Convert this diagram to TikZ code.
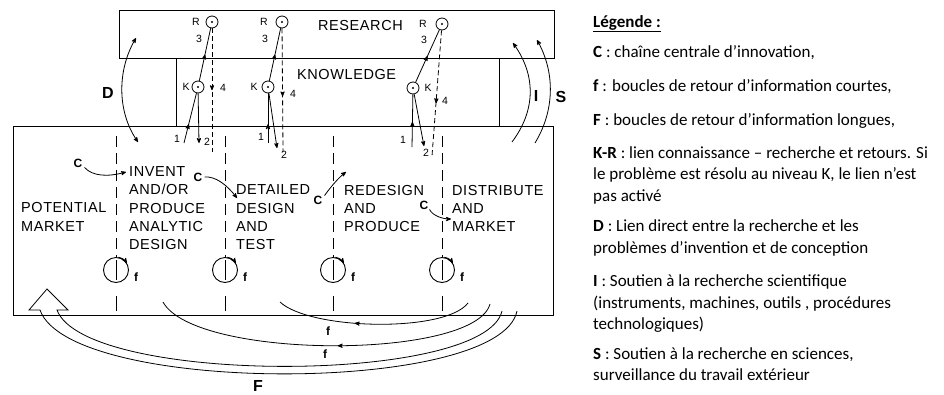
\documentclass[tikz,border=0pt]{standalone}
\usepackage{fontspec}
\setmainfont{Liberation Sans}
\newfontfamily\diagfont[LetterSpace=4]{Liberation Sans}
\newfontfamily\legfont{Carlito}
\usetikzlibrary{arrows, decorations.markings}
\tikzset{
>=stealth', % narrow filled heads, as in the scan
box/.style={draw, line width=1.1pt, inner sep=0pt, anchor=north west},
stage/.style={anchor=base west, align=left, inner sep=0pt, font=\diagfont\fontsize{14.5}{18.2}\selectfont},
lbl/.style={inner sep=0pt, font=\fontsize{10.5}{12}\selectfont},
flbl/.style={inner sep=0pt, font=\bfseries\fontsize{12}{14}\selectfont},
ctag/.style={inner sep=0pt, font=\bfseries\fontsize{12}{14}\selectfont},
bigtag/.style={inner sep=0pt, font=\bfseries\fontsize{16}{18}\selectfont},
kr/.style={circle, draw, line width=0.8pt, minimum size=12pt, inner sep=0pt,
  path picture={\fill (path picture bounding box.center) circle (1.1pt);}},
loopf/.style={circle, draw, line width=0.9pt, minimum size=25pt, inner sep=0pt},
link/.style={line width=0.8pt},
colsep/.style={line width=0.9pt, dash pattern=on 11pt off 6pt},
krback/.style={line width=0.8pt, dash pattern=on 5pt off 3pt},
midarrow/.style={postaction={decorate}, decoration={markings, mark=at position #1 with {\arrow{>}}}},
legitem/.style={anchor=base west, align=left, inner sep=0pt, font=\legfont\fontsize{17}{21.5}\selectfont},
}
\begin{document}
\begin{tikzpicture}[x=1pt, y=-1pt]
\useasboundingbox[fill=white] (0,0) rectangle (944,394);

% blocks
\node[box, minimum width=435pt, minimum height=48pt] (research) at (119,10) {};
\node[box, minimum width=323pt, minimum height=68pt] (knowledge) at (176,58) {};
\node[box, minimum width=540pt, minimum height=189pt] (chain) at (13,126) {};
\node[stage] (researchlbl) at (318,30) {RESEARCH};
\node[stage] (knowledgelbl) at (297,79) {KNOWLEDGE};

% stages of the chain (placed by the baseline of their last line)
\node[stage] (market) at (21,231) {POTENTIAL\\MARKET};
\node[stage] (invent) at (129,249.5) {INVENT\\AND/OR\\PRODUCE\\ANALYTIC\\DESIGN};
\node[stage] (detail) at (236,249.5) {DETAILED\\DESIGN\\AND\\TEST};
\node[stage] (redesign) at (344,231.5) {REDESIGN\\AND\\PRODUCE};
\node[stage] (distrib) at (452,231.5) {DISTRIBUTE\\AND\\MARKET};

% separators with short loops f
\foreach \x [count=\i] in {116,225,333,442} {
  \node[loopf] (f\i) at (\x,270) {};
  \node[flbl] (f\i lbl) at (\x+20,277) {f};
  \coordinate (top\i) at (\x,136);
  \coordinate (bot\i) at (\x,311);
  \draw[colsep] (top\i) -- (f\i.north);
  \draw[link] ([yshift=-3pt]f\i.north) -- ([yshift=3pt]f\i.south);
  \draw[link] ([yshift=-13pt]f\i.south) -- (bot\i);
  \draw[link, ->] (f\i.80) to[bend left=23] (f\i.33);
}

% K-R links, first column
\node[kr] (r1) at (212,22) {};
\node[kr] (k1) at (198,87) {};
\node[lbl] (r1lbl) at (196,22) {R};
\node[lbl] (r1n) at (199,39) {3};
\node[lbl] (k1lbl) at (186,87) {K};
\node[lbl] (k1n) at (223,88) {4};
\coordinate (in1) at (184,143);
\coordinate (out1) at (199,143);
\coordinate (down1) at (212,152);
\draw[link, midarrow=0.5] (k1) -- (r1);
\draw[link, midarrow=0.38] (in1) -- (k1);
\draw[link, ->] (k1) -- (out1);
\draw[krback, midarrow=0.5] (r1) -- (down1);
\node[lbl] (in1lbl) at (177,139) {1};
\node[lbl] (out1lbl) at (207,142) {2};

% second column
\node[kr] (r2) at (282,22) {};
\node[kr] (k2) at (268,87) {};
\node[lbl] (r2lbl) at (264,22) {R};
\node[lbl] (r2n) at (265,39) {3};
\node[lbl] (k2lbl) at (254,87) {K};
\node[lbl] (k2n) at (293,94) {4};
\coordinate (in2) at (268,143);
\coordinate (out2) at (277,148);
\coordinate (down2) at (283,152);
\draw[link, midarrow=0.5] (k2) -- (r2);
\draw[link, midarrow=0.38] (in2) -- (k2);
\draw[link, ->] (k2) -- (out2);
\draw[krback, midarrow=0.55] (r2) -- (down2);
\node[lbl] (in2lbl) at (261,137) {1};
\node[lbl] (out2lbl) at (284,155) {2};

% third column
\node[kr] (r3) at (442,24) {};
\node[kr] (k3) at (413,88) {};
\node[lbl] (r3lbl) at (423,24) {R};
\node[lbl] (r3n) at (424,40) {3};
\node[lbl] (k3lbl) at (428,88) {K};
\node[lbl] (k3n) at (445,101) {4};
\coordinate (in3) at (412,147);
\coordinate (out3) at (424,146);
\coordinate (down3) at (432,156);
\draw[link, midarrow=0.5] (k3) -- (r3);
\draw[link, midarrow=0.48] (in3) -- (k3);
\draw[link, ->] (k3) -- (out3);
\draw[krback, midarrow=0.58] (r3) -- (down3);
\node[lbl] (in3lbl) at (403,140) {1};
\node[lbl] (out3lbl) at (426,153) {2};

% D, I, S
\coordinate (dtop) at (136,38);
\coordinate (dbot) at (138,142);
\draw[link, <->] (dtop) .. controls (117,70) and (117,112) .. (dbot);
\node[bigtag] (dlbl) at (108,93) {D};
\coordinate (itop) at (513,43);
\coordinate (ibot) at (512,142);
\draw[link, ->] (ibot) .. controls (536,110) and (536,75) .. (itop);
\node[bigtag] (ilbl) at (536,96) {I};
\coordinate (stop) at (537,40);
\coordinate (sbot) at (535,143);
\draw[link, ->] (sbot) .. controls (555,110) and (555,72) .. (stop);
\node[bigtag] (slbl) at (561,97) {S};

% central chain C
\node[ctag] (c1) at (78,163) {C};
\coordinate (c1end) at (126,172);
\draw[link, ->] ([xshift=2pt]c1.south east) .. controls +(8,9) and +(-18,5) .. (c1end);
\node[ctag] (c2) at (198,177) {C};
\coordinate (c2end) at (237,198);
\draw[link, ->] ([xshift=2pt]c2.east) .. controls +(11,-1) and +(-10,-13) .. (c2end);
\node[ctag] (c3) at (318,200) {C};
\coordinate (c3end) at (346,172);
\draw[link, ->] ([xshift=2pt]c3.north east) .. controls +(5,-7) and +(-8,6) .. (c3end);
\node[ctag] (c4) at (424,205) {C};
\coordinate (c4end) at (451,219);
\draw[link, ->] ([xshift=1pt]c4.south east) .. controls +(3,6) and +(-9,0) .. (c4end);

% feedback loops f and F
\coordinate (fa1) at (468,303);
\coordinate (fa2) at (280,302);
\draw[link, midarrow=0.6] (fa1) .. controls (445,333) and (310,330) .. (fa2);
\node[flbl] (fa lbl) at (328,331) {f};
\coordinate (fb1) at (490,304);
\coordinate (fb2) at (163,302);
\draw[link, midarrow=0.47] (fb1) .. controls (475,360) and (195,360) .. (fb2);
\node[flbl] (fb lbl) at (325,354) {f};
\coordinate (fo1) at (517,311);
\coordinate (fo2) at (40,310);
\coordinate (fi1) at (502,311);
\coordinate (fi2) at (57,310);
\coordinate (ftip) at (47,289);
\draw[link] (fo1) .. controls (500,395) and (70,395) .. (fo2) -- (29,310) -- (ftip)
  -- (68,310) -- (fi2) .. controls (85,385) and (485,385) .. (fi1);
\node[bigtag] (Flbl) at (258,386) {F};

% legend (multi-line items placed by their last baseline)
\node[legitem] (legtitle) at (593,27) {\underline{\textbf{Légende :}}};
\node[legitem] (legC) at (593,57) {\textbf{C} : chaîne centrale d’innovation,};
\node[legitem] (legf) at (593,91.5) {\textbf{f} : boucles de retour d’information courtes,};
\node[legitem] (legF) at (593,125) {\textbf{F} : boucles de retour d’information longues,};
\node[legitem] (legKR) at (593,201) {\textbf{K-R} : lien connaissance – recherche et retours. Si\\le problème est résolu au niveau K, le lien n’est\\pas activé};
\node[legitem] (legD) at (593,253) {\textbf{D} : Lien direct entre la recherche et les\\problèmes d’invention et de conception};
\node[legitem] (legI) at (593,329.5) {\textbf{I} : Soutien à la recherche scientifique\\(instruments, machines, outils , procédures\\technologiques)};
\node[legitem] (legS) at (593,380.5) {\textbf{S} : Soutien à la recherche en sciences,\\surveillance du travail extérieur};
\end{tikzpicture}
\end{document}
